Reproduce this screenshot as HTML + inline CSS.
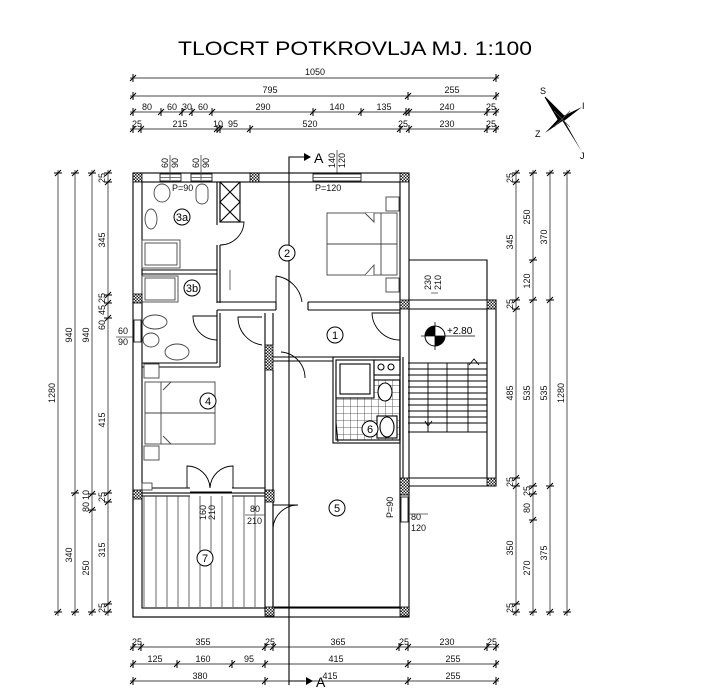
<!DOCTYPE html>
<html><head><meta charset="utf-8"><style>
html,body{margin:0;padding:0;background:#fff;}
svg{display:block;font-family:"Liberation Sans",Arial,sans-serif;}
</style></head><body>
<svg width="724" height="690" viewBox="0 0 724 690" xmlns="http://www.w3.org/2000/svg">
<defs>
<pattern id="h" width="3" height="3" patternUnits="userSpaceOnUse"><rect width="3" height="3" fill="#fff"/><rect width="1.5" height="1.5" fill="#222"/><rect x="1.5" y="1.5" width="1.5" height="1.5" fill="#222"/></pattern>
<pattern id="tile" width="7" height="7" patternUnits="userSpaceOnUse"><rect width="7" height="7" fill="#fff"/><path d="M0 0H7M0 0V7" stroke="#333" stroke-width="0.8"/></pattern>
<g id="tk"><path d="M-3 3L3 -3M0 -4V4" stroke="#000" stroke-width="1"/></g>
<g id="tv"><path d="M-3 3L3 -3M-4 0H4" stroke="#000" stroke-width="1"/></g>
</defs>

<text x="178" y="55" font-size="19" textLength="354" lengthAdjust="spacingAndGlyphs">TLOCRT POTKROVLJA MJ. 1:100</text>

<g stroke="#444" stroke-width="0.9" fill="none">
<path d="M130 78H499M130 96H499M130 112H499M130 129H499"/>
</g>
<g>
<use href="#tk" x="133" y="78"/><use href="#tk" x="496" y="78"/>
<use href="#tk" x="133" y="96"/><use href="#tk" x="408" y="96"/><use href="#tk" x="496" y="96"/>
<use href="#tk" x="133" y="112"/><use href="#tk" x="161" y="112"/><use href="#tk" x="182" y="112"/><use href="#tk" x="192" y="112"/><use href="#tk" x="212" y="112"/><use href="#tk" x="313" y="112"/><use href="#tk" x="361" y="112"/><use href="#tk" x="406" y="112"/><use href="#tk" x="409" y="112"/><use href="#tk" x="487" y="112"/><use href="#tk" x="496" y="112"/>
<use href="#tk" x="133" y="129"/><use href="#tk" x="141" y="129"/><use href="#tk" x="217" y="129"/><use href="#tk" x="220" y="129"/><use href="#tk" x="250" y="129"/><use href="#tk" x="400" y="129"/><use href="#tk" x="409" y="129"/><use href="#tk" x="487" y="129"/><use href="#tk" x="496" y="129"/>
</g>
<g font-size="9" text-anchor="middle" fill="#111">
<text x="315" y="75">1050</text>
<text x="270" y="93">795</text><text x="452" y="93">255</text>
<text x="147" y="110">80</text><text x="172" y="110">60</text><text x="187" y="110">30</text><text x="203" y="110">60</text><text x="263" y="110">290</text><text x="337" y="110">140</text><text x="384" y="110">135</text><text x="447" y="110">240</text><text x="491" y="110">25</text>
<text x="137" y="127">25</text><text x="180" y="127">215</text><text x="218" y="127">10</text><text x="233" y="127">95</text><text x="310" y="127">520</text><text x="403" y="127">25</text><text x="447" y="127">230</text><text x="491" y="127">25</text>
</g>

<g transform="translate(562,119)">
<path d="M-17 -22L2 -3L-3 2Z" fill="#000"/><path d="M-17 -22L-3 2L2 -3Z" fill="none" stroke="#000"/>
<path d="M20 33L3 3L-2 -2Z" fill="#000"/>
<path d="M20 -12L-1 -2L2 2Z" fill="#000"/>
<path d="M-17 14L2 1L-2 -2Z" fill="#000"/>
<path d="M-8 -8L8 8M8 -8L-8 8" stroke="#555" stroke-width="0.7"/>
<text x="-22" y="-25" font-size="9">S</text><text x="20" y="-10" font-size="9">I</text><text x="-27" y="18" font-size="9">Z</text><text x="18" y="40" font-size="9">J</text>
</g>

<g stroke="#444" stroke-width="0.9"><path d="M58 170V616M75 170V616M92 170V616M108 170V616"/></g>
<g>
<use href="#tv" x="58" y="173"/><use href="#tv" x="58" y="612"/>
<use href="#tv" x="75" y="173"/><use href="#tv" x="75" y="493"/><use href="#tv" x="75" y="612"/>
<use href="#tv" x="92" y="173"/><use href="#tv" x="92" y="494"/><use href="#tv" x="92" y="510"/><use href="#tv" x="92" y="612"/>
<use href="#tv" x="108" y="173"/><use href="#tv" x="108" y="182"/><use href="#tv" x="108" y="295"/><use href="#tv" x="108" y="303"/><use href="#tv" x="108" y="318"/><use href="#tv" x="108" y="493"/><use href="#tv" x="108" y="502"/><use href="#tv" x="108" y="604"/><use href="#tv" x="108" y="612"/>
</g>
<g font-size="9" text-anchor="middle" fill="#111">
<text transform="translate(55,393) rotate(-90)">1280</text>
<text transform="translate(72,335) rotate(-90)">940</text><text transform="translate(89,335) rotate(-90)">940</text>
<text transform="translate(72,555) rotate(-90)">340</text><text transform="translate(89,568) rotate(-90)">250</text><text transform="translate(89,507) rotate(-90)">80</text><text transform="translate(89,495) rotate(-90)">10</text>
<text transform="translate(105,240) rotate(-90)">345</text><text transform="translate(105,178) rotate(-90)">25</text><text transform="translate(105,298) rotate(-90)">25</text><text transform="translate(105,310) rotate(-90)">45</text><text transform="translate(105,325) rotate(-90)">60</text><text transform="translate(105,420) rotate(-90)">415</text><text transform="translate(105,497) rotate(-90)">25</text><text transform="translate(105,550) rotate(-90)">315</text><text transform="translate(105,608) rotate(-90)">25</text>
</g>

<g stroke="#444" stroke-width="0.9"><path d="M516 170V616M533 170V616M550 170V616M567 170V616"/></g>
<g>
<use href="#tv" x="516" y="173"/><use href="#tv" x="516" y="182"/><use href="#tv" x="516" y="300"/><use href="#tv" x="516" y="309"/><use href="#tv" x="516" y="478"/><use href="#tv" x="516" y="486"/><use href="#tv" x="516" y="604"/><use href="#tv" x="516" y="612"/>
<use href="#tv" x="533" y="173"/><use href="#tv" x="533" y="260"/><use href="#tv" x="533" y="300"/><use href="#tv" x="533" y="486"/><use href="#tv" x="533" y="494"/><use href="#tv" x="533" y="520"/><use href="#tv" x="533" y="612"/>
<use href="#tv" x="550" y="173"/><use href="#tv" x="550" y="300"/><use href="#tv" x="550" y="486"/><use href="#tv" x="550" y="612"/>
<use href="#tv" x="567" y="173"/><use href="#tv" x="567" y="612"/>
</g>
<g font-size="9" text-anchor="middle" fill="#111">
<text transform="translate(513,242) rotate(-90)">345</text><text transform="translate(513,178) rotate(-90)">25</text><text transform="translate(513,304) rotate(-90)">25</text><text transform="translate(513,393) rotate(-90)">485</text><text transform="translate(513,482) rotate(-90)">25</text><text transform="translate(513,548) rotate(-90)">350</text><text transform="translate(513,608) rotate(-90)">25</text>
<text transform="translate(530,217) rotate(-90)">250</text><text transform="translate(530,281) rotate(-90)">120</text><text transform="translate(530,393) rotate(-90)">535</text><text transform="translate(530,491) rotate(-90)">25</text><text transform="translate(530,508) rotate(-90)">80</text><text transform="translate(530,568) rotate(-90)">270</text>
<text transform="translate(547,237) rotate(-90)">370</text><text transform="translate(547,393) rotate(-90)">535</text><text transform="translate(547,553) rotate(-90)">375</text>
<text transform="translate(564,393) rotate(-90)">1280</text>
</g>

<g stroke="#444" stroke-width="0.9"><path d="M130 647H499M130 664H499M130 681H499"/></g>
<g>
<use href="#tk" x="133" y="647"/><use href="#tk" x="141" y="647"/><use href="#tk" x="265" y="647"/><use href="#tk" x="273" y="647"/><use href="#tk" x="399" y="647"/><use href="#tk" x="408" y="647"/><use href="#tk" x="487" y="647"/><use href="#tk" x="496" y="647"/>
<use href="#tk" x="133" y="664"/><use href="#tk" x="177" y="664"/><use href="#tk" x="232" y="664"/><use href="#tk" x="265" y="664"/><use href="#tk" x="408" y="664"/><use href="#tk" x="496" y="664"/>
<use href="#tk" x="133" y="681"/><use href="#tk" x="265" y="681"/><use href="#tk" x="408" y="681"/><use href="#tk" x="496" y="681"/>
</g>
<g font-size="9" text-anchor="middle" fill="#111">
<text x="137" y="645">25</text><text x="203" y="645">355</text><text x="270" y="645">25</text><text x="338" y="645">365</text><text x="404" y="645">25</text><text x="447" y="645">230</text><text x="492" y="645">25</text>
<text x="155" y="662">125</text><text x="203" y="662">160</text><text x="249" y="662">95</text><text x="336" y="662">415</text><text x="453" y="662">255</text>
<text x="200" y="679">380</text><text x="330" y="679">415</text><text x="453" y="679">255</text>
</g>

<g stroke="#000" stroke-width="1.1" fill="none"><path d="M289 685V157H305M289 681H305"/></g>
<path d="M304 153L311 157L304 161Z" fill="#000"/><path d="M306 677L313 681L306 685Z" fill="#000"/>
<text x="314" y="163" font-size="14">A</text><text x="316" y="687" font-size="14">A</text>
<g font-size="9" fill="#111"><text transform="translate(335,168) rotate(-90)">140</text><text transform="translate(345,168) rotate(-90)">120</text></g>
<path d="M337 150V175" stroke="#444" stroke-width="0.8"/>

<g stroke="#000" stroke-width="1.1" fill="none">
<rect x="133" y="173" width="276" height="444"/>
<rect x="142" y="182" width="258" height="426"/>
<path d="M409 260H487V300M409 300H496V486H409M409 309H487V478H409"/>
<path d="M217 182V225M220 182V222M217 245V303M220 245V303"/>
<rect x="220" y="182" width="20" height="40"/><path d="M220 182L240 202L220 222M240 182L220 202L240 222"/>
<path d="M217 302H276M217 310H276M308 302H400M308 310H400M276 302V310M308 302V310"/>
<path d="M142 270H217M142 274H217"/>
<path d="M217 310V363M220 313V367M142 363H217M142 367H220"/>
<path d="M265 345V612M273 370V493M265 313V345M273 313V345"/>
<path d="M142 488H190M142 496H190M232 488H265M232 496H265M190 492H232"/>
<path d="M273 607H400"/>
<path d="M400 310V360M403 357V478"/>
<path d="M273 357H333M273 361H333M273 493V612"/>
<rect x="333" y="357" width="67" height="86"/>
<rect x="336" y="380" width="64" height="60" fill="url(#tile)"/>
<rect x="336" y="360" width="38" height="38" fill="#fff"/><rect x="340" y="364" width="30" height="30"/>
<rect x="374" y="360" width="26" height="15"/><circle cx="381" cy="367" r="3"/><circle cx="391" cy="367" r="3"/>
<rect x="377" y="416" width="20" height="22" fill="#fff"/><ellipse cx="387" cy="427" rx="7" ry="10"/>
<ellipse cx="385" cy="392" rx="7" ry="9" fill="#fff"/>
</g>

<g stroke="#000" stroke-width="0.9" fill="none">
<path d="M220 245A24 24 0 0 0 244 222L220 222"/>
<path d="M276 276V302M276 276A30 30 0 0 1 302 302"/>
<path d="M217 340A24 24 0 0 1 193 316H217"/>
<path d="M262 345A28 28 0 0 1 238 317H262"/>
<path d="M400 340A28 28 0 0 1 372 313H400"/>
<path d="M305 378A26 26 0 0 0 281 352"/>
<path d="M187 488V466A23 23 0 0 1 210 488M233 488V466A23 23 0 0 0 210 488"/>
<path d="M273 528A25 25 0 0 1 298 505H273"/>
<path d="M336 422L338 442"/>
</g>

<g stroke="#444" stroke-width="0.8">
<path d="M144 496V607M156 496V607M167 496V607M178 496V607M189 496V607M200 496V607M211 496V607M222 496V607M233 496V607M244 496V607M255 496V607"/>
</g>
<rect x="133" y="493" width="140" height="124" fill="none" stroke="#000" stroke-width="1.1"/>

<g stroke="#000" stroke-width="0.9" fill="none">
<path d="M408 363H487M408 369H487M408 375H487M408 381H487M408 387H487M408 393H487M408 399H487M408 405H487M408 411H487M408 417H487M408 423H487M408 432H487"/>
<path d="M428 363V432M447 363V432M468 363V432"/>
<path d="M469 365L474 359L479 365M428 426L425 421M428 426L432 421"/>
</g>
<g transform="translate(435,336)">
<circle r="10" fill="#fff" stroke="#000"/>
<path d="M0 0V-10A10 10 0 0 0 -10 0Z M0 0V10A10 10 0 0 0 10 0Z" fill="#000"/>
<path d="M-14 0H40M0 -14V14" stroke="#000" stroke-width="0.8"/>
</g>
<text x="447" y="334" font-size="10">+2.80</text>

<g stroke="#000" stroke-width="0.8" fill="#fff">
<rect x="160" y="174" width="21" height="7"/><rect x="191" y="174" width="21" height="7"/><rect x="313" y="174" width="48" height="7"/>
<rect x="134" y="320" width="7" height="22"/><rect x="401" y="497" width="7" height="25"/>
</g>
<g stroke="#444" stroke-width="0.8"><path d="M160 177.5H181M191 177.5H212M313 177.5H361M170 155V180M201 155V180M230 270V290"/></g>
<g font-size="9" fill="#111">
<text transform="translate(168,168) rotate(-90)">60</text><text transform="translate(178,168) rotate(-90)">90</text>
<text transform="translate(199,168) rotate(-90)">60</text><text transform="translate(209,168) rotate(-90)">90</text>
<text x="172" y="191">P=90</text><text x="315" y="191">P=120</text>
<text x="118" y="334">60</text><text x="118" y="345">90</text>
<text x="431" y="290" transform="rotate(-90 431 290)">230</text><text x="441" y="290" transform="rotate(-90 441 290)">210</text>
<text x="411" y="520">80</text><text x="411" y="531">120</text>
<text transform="translate(393,518) rotate(-90)">P=90</text>
<text x="250" y="512">80</text><text x="247" y="524">210</text>
<text transform="translate(206,520) rotate(-90)">160</text><text transform="translate(215,520) rotate(-90)">210</text>
</g>
<path d="M116 337H133M409 514H428M245 515H265M431 293H438" stroke="#444" stroke-width="0.8"/>

<g stroke="#444" stroke-width="0.9" fill="#fff">
<ellipse cx="162" cy="193" rx="8" ry="9"/><rect x="196" y="184" width="12" height="20" rx="6"/>
<ellipse cx="151" cy="219" rx="6" ry="10"/>
<rect x="142" y="240" width="38" height="28"/><rect x="145" y="243" width="32" height="22"/>
<rect x="142" y="276" width="36" height="26"/><rect x="145" y="278" width="30" height="22"/>
<ellipse cx="155" cy="322" rx="12" ry="7"/><ellipse cx="151" cy="340" rx="8" ry="7"/>
<ellipse cx="177" cy="352" rx="12" ry="8"/>
<rect x="327" y="213" width="70" height="62"/><path d="M327 244H397M381 213V275M365 213L374 222V213M365 275L374 265V275"/>
<rect x="386" y="197" width="13" height="14"/><rect x="386" y="278" width="13" height="14"/>
<rect x="145" y="382" width="70" height="62"/><path d="M145 413H215M161 382V444M171 382L163 390M171 444L163 436"/>
<rect x="144" y="364" width="15" height="14"/><rect x="144" y="446" width="15" height="14"/>
<rect x="142" y="483" width="10" height="7"/>
</g>

<g fill="url(#h)" stroke="#000" stroke-width="0.8">
<rect x="133" y="173" width="9" height="9"/><rect x="250" y="173" width="9" height="9"/><rect x="400" y="173" width="9" height="9"/>
<rect x="133" y="294" width="9" height="9"/><rect x="400" y="300" width="9" height="9"/><rect x="487" y="300" width="9" height="9"/>
<rect x="265" y="345" width="8" height="25"/>
<rect x="133" y="490" width="9" height="9"/><rect x="265" y="490" width="9" height="12"/>
<rect x="400" y="478" width="9" height="17"/><rect x="487" y="478" width="9" height="8"/>
<rect x="265" y="607" width="9" height="9"/><rect x="400" y="607" width="9" height="9"/>
</g>

<g font-size="11" text-anchor="middle" fill="#000">
<circle cx="182" cy="217" r="8" fill="#fff" stroke="#000"/><text x="182" y="221">3a</text>
<circle cx="192" cy="288" r="8" fill="#fff" stroke="#000"/><text x="192" y="292">3b</text>
<circle cx="287" cy="253" r="8" fill="#fff" stroke="#000"/><text x="287" y="257">2</text>
<circle cx="335" cy="335" r="8" fill="#fff" stroke="#000"/><text x="335" y="339">1</text>
<circle cx="208" cy="401" r="8" fill="#fff" stroke="#000"/><text x="208" y="405">4</text>
<circle cx="370" cy="429" r="8" fill="#fff" stroke="#000"/><text x="370" y="433">6</text>
<circle cx="337" cy="508" r="8" fill="#fff" stroke="#000"/><text x="337" y="512">5</text>
<circle cx="205" cy="558" r="8" fill="#fff" stroke="#000"/><text x="205" y="562">7</text>
</g>
</svg>
</body></html>
